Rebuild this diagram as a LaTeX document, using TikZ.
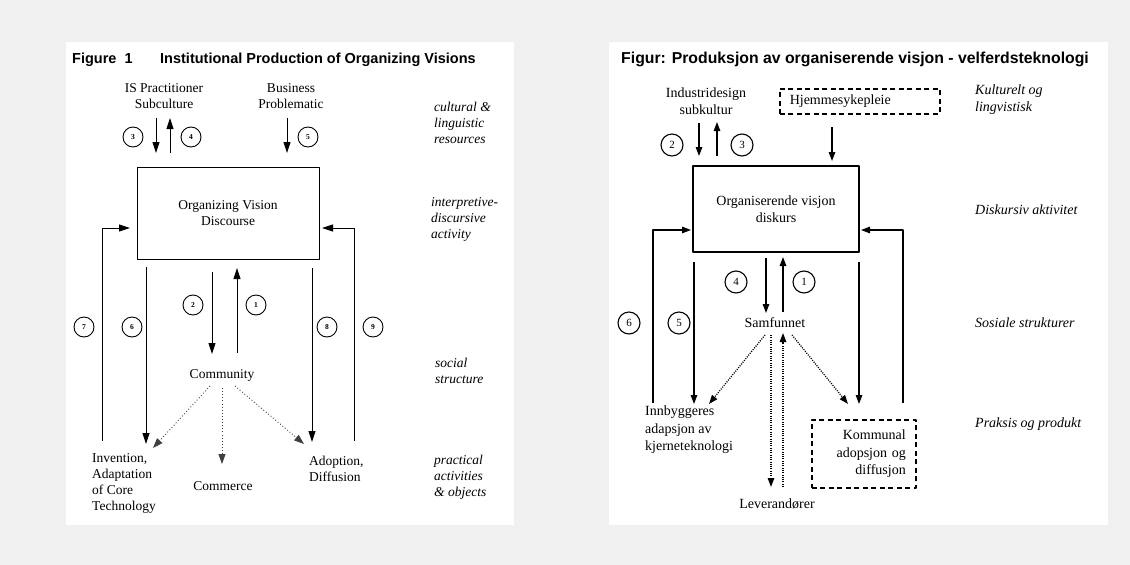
\documentclass[tikz,border=0pt]{standalone}
\usepackage{fontspec}
\setmainfont{Liberation Serif}
\setsansfont{Liberation Sans}
\usetikzlibrary{arrows.meta}
\definecolor{bggray}{RGB}{240,240,240}

\begin{document}
\begin{tikzpicture}[line join=round,x=1pt,y=-1pt,
	ltxt/.style={font=\fontsize{13.5}{16}\selectfont,align=center,inner sep=0pt},
	lside/.style={font=\fontsize{13.5}{16}\selectfont\itshape,align=left,anchor=west,inner sep=0pt},
	lnum/.style={draw,line width=0.9pt,circle,minimum size=20pt,inner sep=0pt,font=\fontsize{7.5}{8}\selectfont\bfseries},
	larr/.style={line width=0.9pt,-{Triangle[length=11pt,width=7pt]}},
	lline/.style={line width=0.9pt},
	ldot/.style={line width=0.9pt,black!75,dash pattern=on 0.9pt off 2.2pt,-{Triangle[length=10pt,width=7pt]}},
	rtxt/.style={font=\fontsize{14}{17.5}\selectfont,align=center,inner sep=0pt},
	rside/.style={font=\fontsize{14}{17}\selectfont\itshape,align=left,anchor=west,inner sep=0pt},
	rnum/.style={draw,line width=1.1pt,circle,minimum size=22pt,inner sep=0pt,font=\fontsize{11}{12}\selectfont},
	rarr/.style={line width=1.3pt,-{Triangle[length=9pt,width=6.5pt]}},
	rline/.style={line width=1.3pt},
	rdot/.style={line width=1.3pt,dash pattern=on 1pt off 1.3pt,-{Triangle[length=9pt,width=6.5pt]}},
	rdash/.style={draw,line width=1.5pt,dash pattern=on 5pt off 3.5pt,inner sep=10pt,font=\fontsize{14}{17.5}\selectfont}]
	\useasboundingbox (0,0) rectangle (1130,565);
	\fill[bggray] (0,0) rectangle (1130,565);
	\fill[white] (66,42) rectangle (514,525);
	\fill[white] (609,42) rectangle (1108,525);

	% left figure
	\node[anchor=west,inner sep=0pt,font=\sffamily\bfseries\fontsize{14.5}{17}\selectfont] (figno) at (72,60) {Figure\hspace{8pt}1};
	\node[anchor=west,inner sep=0pt,font=\sffamily\bfseries\fontsize{14.5}{17}\selectfont] (ttlL) at (160,60) {Institutional Production of Organizing Visions};
	\node[ltxt] (ispc) at (164,96) {IS Practitioner\\Subculture};
	\node[ltxt] (bprob) at (291,96) {Business\\Problematic};
	\node[ltxt,draw,line width=0.9pt,minimum width=182pt,minimum height=92pt] (ovd) at (228,213) {Organizing Vision\\Discourse};
	\node[ltxt] (comty) at (222,375) {Community};
	\node[ltxt,align=left,anchor=west] (invent) at (92,483) {Invention,\\Adaptation\\of Core\\Technology};
	\node[ltxt] (commrc) at (223,486) {Commerce};
	\node[ltxt,align=left,anchor=west] (adopt) at (309,469) {Adoption,\\Diffusion};
	\node[lside] (cult) at (434,123) {cultural \&\\linguistic\\resources};
	\node[lside] (interp) at (431,219) {interpretive-\\discursive\\activity};
	\node[lside] (social) at (435,371) {social\\structure};
	\node[lside] (pract) at (434,477) {practical\\activities\\\& objects};

	\node[lnum] (l3) at (133,137) {3};
	\node[lnum] (l4) at (191,137) {4};
	\node[lnum] (l5) at (308,137) {5};
	\node[lnum] (l2) at (193,305) {2};
	\node[lnum] (l1) at (256,305) {1};
	\node[lnum] (l7) at (84,327) {7};
	\node[lnum] (l6) at (132,327) {6};
	\node[lnum] (l8) at (327,327) {8};
	\node[lnum] (l9) at (373,327) {9};

	\coordinate (a3t) at (156,118); \coordinate (a3b) at (156,153);
	\coordinate (a4t) at (170,118); \coordinate (a4b) at (170,153);
	\coordinate (a5t) at (287,118); \coordinate (a5b) at (287,153);
	\coordinate (a7b) at (102,441); \coordinate (a7e) at (130,228);
	\coordinate (a6t) at (146,267); \coordinate (a6b) at (146,444);
	\coordinate (a2t) at (212,272); \coordinate (a2b) at (212,354);
	\coordinate (a1t) at (237,268); \coordinate (a1b) at (237,353);
	\coordinate (a8t) at (312,268); \coordinate (a8b) at (312,442);
	\coordinate (a9b) at (354,441); \coordinate (a9e) at (322,228);
	\draw[larr] (a3t) -- (a3b);
	\draw[larr] (a4b) -- (a4t);
	\draw[larr] (a5t) -- (a5b);
	\draw[larr] (a7b) |- (a7e);
	\draw[larr] (a6t) -- (a6b);
	\draw[larr] (a2t) -- (a2b);
	\draw[larr] (a1b) -- (a1t);
	\draw[larr] (a8t) -- (a8b);
	\draw[larr] (a9b) |- (a9e);
	\coordinate (d1s) at (210,386); \coordinate (d1e) at (153,448);
	\coordinate (d2s) at (222,388); \coordinate (d2e) at (222,464);
	\coordinate (d3s) at (235,386); \coordinate (d3e) at (304,444);
	\draw[ldot] (d1s) -- (d1e);
	\draw[ldot] (d2s) -- (d2e);
	\draw[ldot] (d3s) -- (d3e);

	% right figure
	\node[anchor=west,inner sep=0pt,font=\sffamily\bfseries\fontsize{15.8}{18}\selectfont] (ttlR) at (621,59) {Figur: Produksjon av organiserende visjon - velferdsteknologi};
	\node[rtxt] (indus) at (706,101) {Industridesign\\subkultur};
	\node[rdash,anchor=north west,minimum width=160pt,minimum height=25pt,text width=140pt,align=left,inner ysep=0pt] (hjem) at (779,88) {Hjemmesykepleie};
	\node[rtxt,draw,line width=1.6pt,minimum width=166pt,minimum height=86pt] (orgv) at (776,209) {Organiserende visjon\\diskurs};
	\node[rtxt] (samf) at (775,323) {Samfunnet};
	\node[rtxt,align=left,anchor=west] (innb) at (645,430) {Innbyggeres\\adapsjon av\\kjerneteknologi};
	\node[rdash,anchor=north west,minimum width=104pt,minimum height=68pt,text width=84pt,align=right,inner ysep=0pt] (komm) at (811,419) {Kommunal\\adopsjon og\\diffusjon};
	\node[rtxt] (lever) at (777,504) {Leverandører};
	\node[rside] (kult) at (975,100) {Kulturelt og\\lingvistisk};
	\node[rside] (disk) at (975,210) {Diskursiv aktivitet};
	\node[rside] (sosi) at (975,323) {Sosiale strukturer};
	\node[rside] (praks) at (975,424) {Praksis og produkt};

	\node[rnum] (r2) at (672,145) {2};
	\node[rnum] (r3) at (742,145) {3};
	\node[rnum] (r4) at (736,282) {4};
	\node[rnum] (r1) at (804,282) {1};
	\node[rnum] (r6) at (629,323) {6};
	\node[rnum] (r5) at (679,323) {5};

	\coordinate (b2t) at (699,123); \coordinate (b2b) at (699,156);
	\coordinate (b3t) at (717,122); \coordinate (b3b) at (717,156);
	\coordinate (bht) at (832,127); \coordinate (bhb) at (832,161);
	\coordinate (b6b) at (653,403); \coordinate (b6e) at (691,230);
	\coordinate (b5t) at (694,262); \coordinate (b5b) at (694,404);
	\coordinate (b4t) at (766,258); \coordinate (b4b) at (766,313);
	\coordinate (b1t) at (783,257); \coordinate (b1b) at (783,312);
	\coordinate (b8t) at (859,262); \coordinate (b8b) at (859,404);
	\coordinate (b9b) at (903,403); \coordinate (b9e) at (861,230);
	\draw[rarr] (b2t) -- (b2b);
	\draw[rarr] (b3b) -- (b3t);
	\draw[rarr] (bht) -- (bhb);
	\draw[rarr] (b6b) |- (b6e);
	\draw[rarr] (b5t) -- (b5b);
	\draw[rarr] (b4t) -- (b4b);
	\draw[rarr] (b1b) -- (b1t);
	\draw[rarr] (b8t) -- (b8b);
	\draw[rarr] (b9b) |- (b9e);
	\coordinate (e1s) at (765,335); \coordinate (e1e) at (709,404);
	\coordinate (e2s) at (771,335); \coordinate (e2e) at (771,487);
	\coordinate (e3s) at (783,487); \coordinate (e3e) at (783,333);
	\coordinate (e4s) at (792,335); \coordinate (e4e) at (848,404);
	\draw[rdot] (e1s) -- (e1e);
	\draw[rdot] (e2s) -- (e2e);
	\draw[rdot] (e3s) -- (e3e);
	\draw[rdot] (e4s) -- (e4e);
\end{tikzpicture}
\end{document}
